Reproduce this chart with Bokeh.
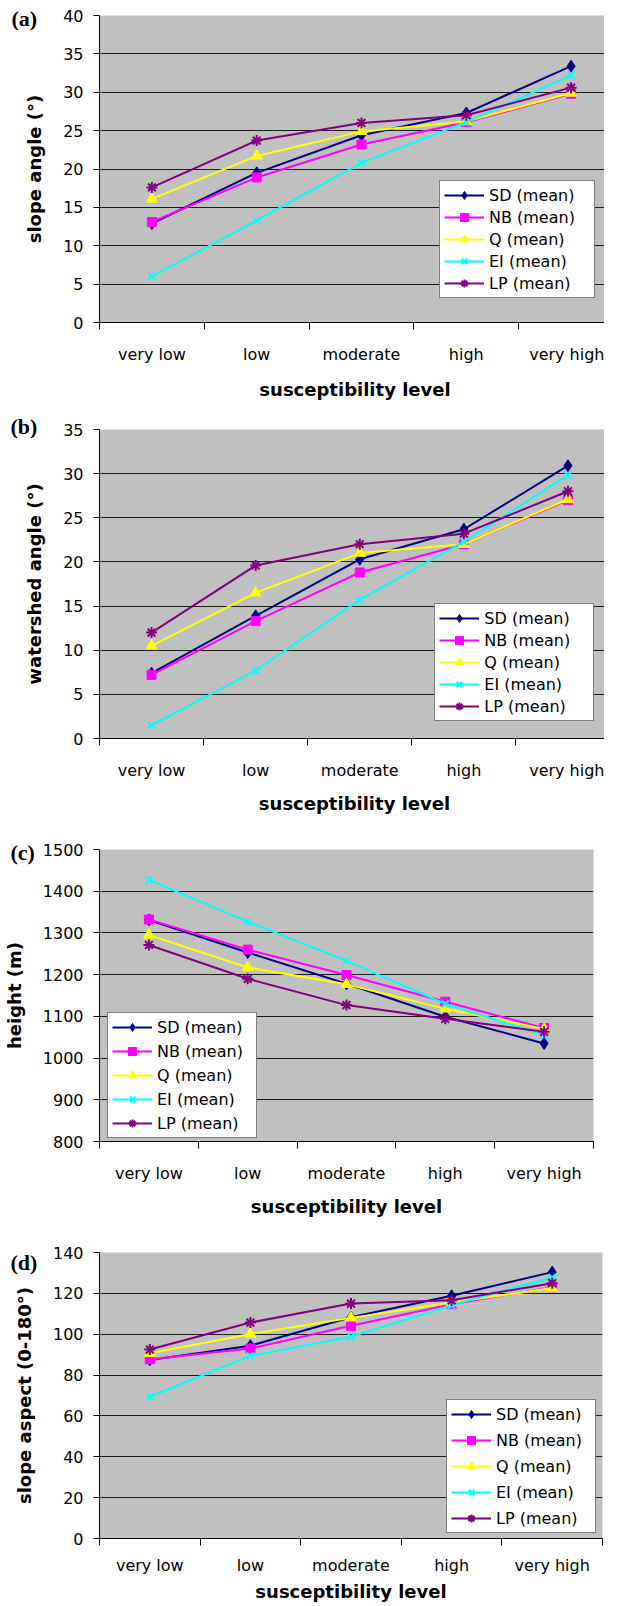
from bokeh.plotting import figure
from bokeh.layouts import column
from bokeh.models import FixedTicker, Range1d, Legend, LegendItem, Title
from bokeh.embed import file_html
from bokeh.resources import INLINE

categories = ["very low", "low", "moderate", "high", "very high"]
series_names = ["SD (mean)", "NB (mean)", "Q (mean)", "EI (mean)", "LP (mean)"]

slope_sd = [12.9, 19.5, 24.4, 27.3, 33.4]
slope_nb = [13.1, 18.9, 23.2, 26.1, 29.8]
slope_q = [16.1, 21.7, 24.9, 26.2, 29.9]
slope_ei = [6.0, 13.3, 20.8, 26.1, 32.2]
slope_lp = [17.6, 23.7, 26.0, 27.0, 30.6]

water_sd = [7.4, 13.9, 20.3, 23.7, 30.9]
water_nb = [7.2, 13.3, 18.8, 22.0, 27.0]
water_q = [10.5, 16.5, 21.0, 22.0, 27.1]
water_ei = [1.5, 7.7, 15.7, 22.3, 29.8]
water_lp = [12.0, 19.6, 22.0, 23.2, 28.0]

height_sd = [1331, 1253, 1178, 1099, 1035]
height_nb = [1332, 1260, 1199, 1135, 1072]
height_q = [1295, 1217, 1177, 1118, 1070]
height_ei = [1427, 1327, 1233, 1130, 1055]
height_lp = [1271, 1190, 1127, 1094, 1063]

aspect_sd = [87.4, 94.4, 108.3, 118.8, 130.4]
aspect_nb = [87.7, 93.0, 104.1, 114.7, 123.0]
aspect_q = [90.7, 100.1, 108.0, 115.5, 122.6]
aspect_ei = [69.4, 89.4, 98.8, 114.2, 127.8]
aspect_lp = [92.5, 105.7, 115.0, 116.6, 125.0]

colors = ["#000080", "#FF00FF", "#FFFF00", "#00FFFF", "#800080"]
markers = ["diamond", "square", "triangle", "x", "asterisk"]
msizes = [12, 9, 11, 10, 11]

FONT = "DejaVu Sans"
NCAT = len(categories)

panels = [
    dict(tag="(a)", ytitle="slope angle (\u00b0)", lo=0, hi=40, step=5,
         series=[slope_sd, slope_nb, slope_q, slope_ei, slope_lp],
         fw=511, fh=307, top=15, bottom=80, left=93, right=0, xend=4.876,
         leg=(356, 24), lsp=2, lw=101, tstand=-30, xlab=15, xstand=12),
    dict(tag="(b)", ytitle="watershed angle (\u00b0)", lo=0, hi=35, step=5,
         series=[water_sd, water_nb, water_q, water_ei, water_lp],
         fw=510, fh=309, top=27, bottom=74, left=94, right=0, xend=4.899,
         leg=(351, 17), lsp=2, lw=105, tstand=-19, xlab=15, xstand=10),
    dict(tag="(c)", ytitle="height (m)", lo=800, hi=1500, step=100,
         series=[height_sd, height_nb, height_q, height_ei, height_lp],
         fw=494, fh=292, top=33, bottom=75, left=94, right=16, xend=5.0,
         leg=(8, 3), lsp=4, lw=95, tstand=-31, xlab=15, xstand=10),
    dict(tag="(d)", ytitle="slope aspect (0-180\u00b0)", lo=0, hi=140, step=20,
         series=[aspect_sd, aspect_nb, aspect_q, aspect_ei, aspect_lp],
         fw=503, fh=286, top=33, bottom=59, left=94, right=7, xend=5.0,
         leg=(347, 5), lsp=6, lw=95, tstand=-44, xlab=10, xstand=3),
]

xpos = [i + 0.5 for i in range(NCAT)]

figs = []
for cfg in panels:
    p = figure(frame_width=cfg["fw"], frame_height=cfg["fh"],
               x_range=Range1d(0, cfg["xend"]),
               y_range=Range1d(cfg["lo"], cfg["hi"]),
               output_backend="svg", toolbar_location=None,
               min_border_left=cfg["left"], min_border_right=cfg["right"],
               min_border_top=cfg["top"], min_border_bottom=cfg["bottom"])
    p.background_fill_color = "#C0C0C0"
    p.border_fill_color = "white"
    p.outline_line_color = None

    yt = list(range(cfg["lo"], cfg["hi"] + 1, cfg["step"]))
    p.yaxis.ticker = FixedTicker(ticks=yt)
    p.ygrid.ticker = FixedTicker(ticks=yt[1:-1])
    p.ygrid.grid_line_color = "black"
    p.ygrid.grid_line_width = 1
    p.ygrid.grid_line_alpha = 0.85
    p.xgrid.visible = False

    p.xaxis.ticker = FixedTicker(ticks=xpos, minor_ticks=list(range(NCAT + 1)))
    p.xaxis.major_label_overrides = {x: c for x, c in zip(xpos, categories)}
    p.xaxis.major_tick_out = 0
    p.xaxis.major_tick_in = 0
    p.xaxis.minor_tick_out = 7
    p.xaxis.minor_tick_in = 0
    p.xaxis.minor_tick_line_color = "black"
    p.xaxis.major_label_standoff = cfg["xlab"]
    p.xaxis.axis_label = "susceptibility level"
    p.xaxis.axis_label_standoff = cfg["xstand"]

    p.yaxis.major_tick_out = 6
    p.yaxis.major_tick_in = 0
    p.yaxis.minor_tick_out = 0
    p.yaxis.minor_tick_in = 0
    p.yaxis.major_label_standoff = 10
    p.yaxis.axis_label = cfg["ytitle"]
    p.yaxis.axis_label_standoff = 15

    for ax in (p.xaxis[0], p.yaxis[0]):
        ax.axis_line_color = "black"
        ax.axis_line_width = 1
        ax.major_tick_line_color = "black"
        ax.major_label_text_font = FONT
        ax.major_label_text_font_size = "16px"
        ax.major_label_text_color = "black"
        ax.axis_label_text_font = FONT
        ax.axis_label_text_font_style = "bold"
        ax.axis_label_text_font_size = "18px"
        ax.axis_label_text_color = "black"

    items = []
    for name, vals, col, mk, ms in zip(series_names, cfg["series"], colors, markers, msizes):
        ln = p.line(xpos, vals, line_color=col, line_width=2)
        lw = 2 if mk in ("x", "asterisk") else 1
        sc = p.scatter(xpos, vals, marker=mk, size=ms, fill_color=col,
                       line_color=col, line_width=lw)
        items.append(LegendItem(label=name, renderers=[ln, sc]))

    leg = Legend(items=items, location=cfg["leg"],
                 border_line_color="black", border_line_width=1,
                 background_fill_color="white", background_fill_alpha=1,
                 label_text_font=FONT, label_text_font_size="16px",
                 label_text_color="black",
                 glyph_width=40, glyph_height=20, label_height=20,
                 label_width=cfg["lw"], label_standoff=5,
                 spacing=cfg["lsp"], padding=4, margin=0)
    p.add_layout(leg, "center")

    p.title = Title(text=cfg["tag"], align="left", offset=-(cfg["left"] - 5),
                    standoff=cfg["tstand"],
                    text_font="Liberation Serif", text_font_style="bold",
                    text_font_size="22px", text_color="black")
    figs.append(p)

layout = column(*figs, spacing=0)
open("out.html", "w").write(file_html(layout, INLINE))
